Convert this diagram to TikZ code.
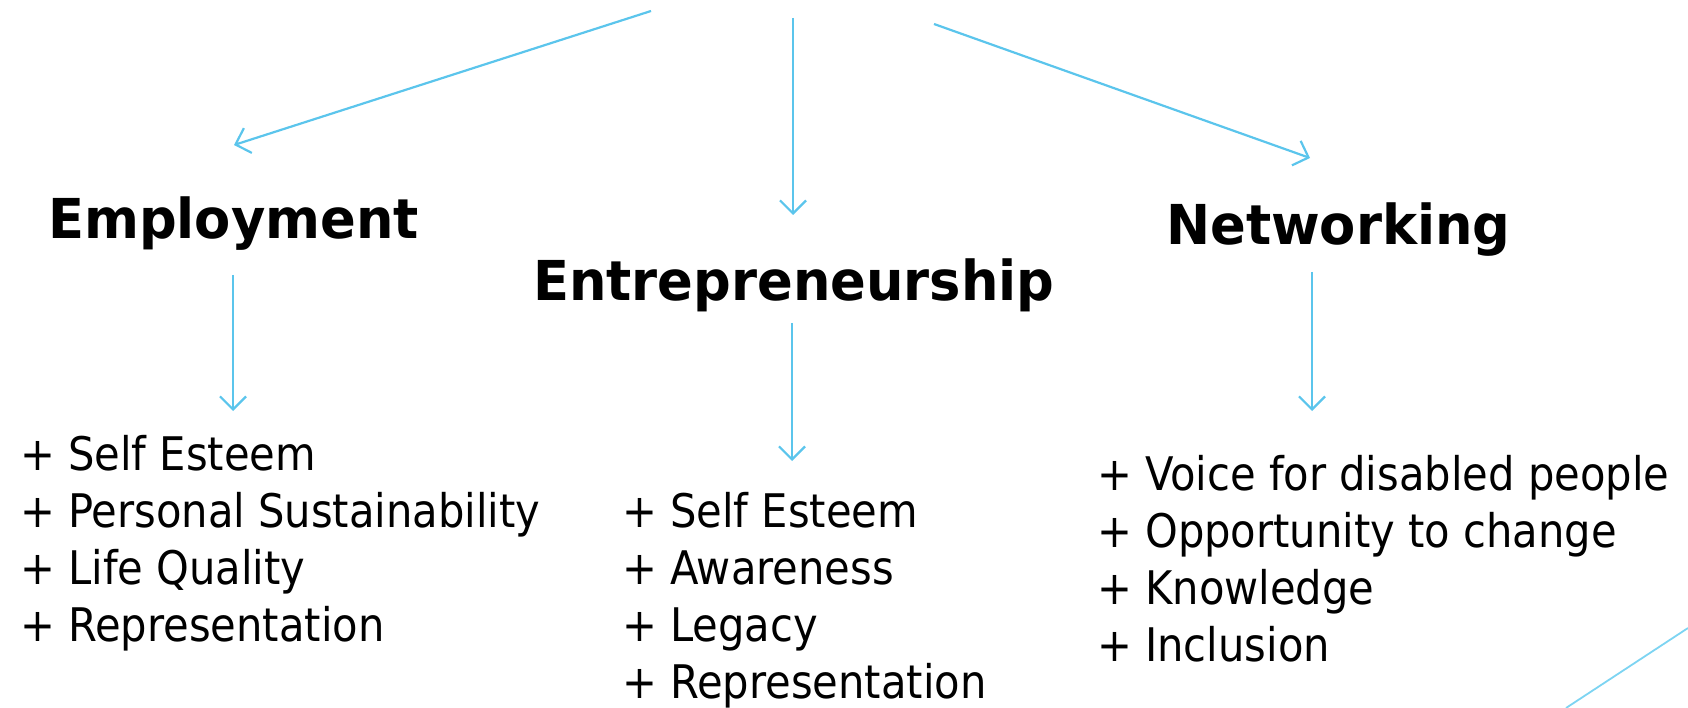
\documentclass[tikz,border=0pt]{standalone}
\usepackage{fontspec}
\setmainfont{DejaVu Sans Condensed}
\newfontfamily\headfont[FakeStretch=1.065]{DejaVu Sans Condensed}
\usetikzlibrary{arrows.meta}
\definecolor{arrowblue}{RGB}{91,197,236}
\definecolor{lineblue}{RGB}{125,212,242}
\tikzset{
  head/.style={inner sep=0pt, anchor=base west, font=\headfont\fontsize{55}{60}\selectfont\bfseries},
  items/.style={inner sep=0pt, anchor=base west, align=left, font=\fontsize{46.3}{57}\selectfont},
  link/.style={draw=arrowblue, line width=2.2pt, -{Straight Barb[length=13pt,width=26pt,line width=2.2pt]}}
}
\begin{document}
\begin{tikzpicture}[x=1pt,y=-1pt]
\useasboundingbox (0,0) rectangle (1688,708);
\node[head] (emp) at (48,239) {Employment};
\node[head] (ent) at (533,301) {Entrepreneurship};
\node[head] (net) at (1166,245) {Networking};
% base anchor of a multi-line node is the baseline of its last line
\node[items] (empl) at (20,641) {+ Self Esteem\\+ Personal Sustainability\\+ Life Quality\\+ Representation};
\node[items] (entl) at (622,698) {+ Self Esteem\\+ Awareness\\+ Legacy\\+ Representation};
\node[items] (netl) at (1097,661) {+ Voice for disabled people\\+ Opportunity to change\\+ Knowledge\\+ Inclusion};
\coordinate (s1) at (651,11);
\coordinate (s2) at (793,18);
\coordinate (s3) at (934,24);
\coordinate (e1) at (234,145);
\coordinate (e2) at (793,215);
\coordinate (e3) at (1310,158);
\draw[link] (s1) -- (e1);
\draw[link] (s2) -- (e2);
\draw[link] (s3) -- (e3);
\coordinate (a1) at (233,275);
\coordinate (b1) at (233,411);
\coordinate (a2) at (792,323);
\coordinate (b2) at (792,461);
\coordinate (a3) at (1312,272);
\coordinate (b3) at (1312,411);
\draw[link] (a1) -- (b1);
\draw[link] (a2) -- (b2);
\draw[link] (a3) -- (b3);
\coordinate (d1) at (1566,708);
\coordinate (d2) at (1688,628);
\draw[lineblue, line width=1.8pt] (d1) -- (d2);
\end{tikzpicture}
\end{document}
